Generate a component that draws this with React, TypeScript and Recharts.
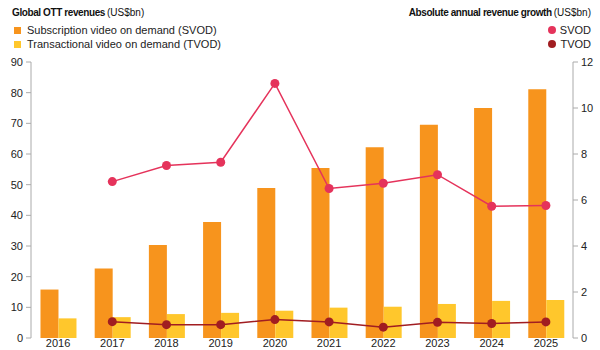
import React from 'react';
import { ComposedChart, Bar, Line, XAxis, YAxis } from 'recharts';

const years = ['2016', '2017', '2018', '2019', '2020', '2021', '2022', '2023', '2024', '2025'];
const svodRevenue = [15.8, 22.7, 30.3, 37.8, 48.9, 55.4, 62.2, 69.5, 75.0, 81.1];
const tvodRevenue = [6.4, 6.8, 7.8, 8.2, 8.9, 9.9, 10.2, 11.1, 12.1, 12.4];
const svodGrowth = [null, 6.8, 7.5, 7.64, 11.07, 6.5, 6.73, 7.1, 5.73, 5.76];
const tvodGrowth = [null, 0.71, 0.58, 0.58, 0.8, 0.7, 0.47, 0.68, 0.63, 0.7];
const leftTicks = [0, 10, 20, 30, 40, 50, 60, 70, 80, 90];
const rightTicks = [0, 2, 4, 6, 8, 10, 12];

const data = years.map((y, i) => ({
  year: y,
  svod: svodRevenue[i],
  tvod: tvodRevenue[i],
  svodG: svodGrowth[i],
  tvodG: tvodGrowth[i],
}));

const FONT = '"Liberation Sans", Arial, Helvetica, sans-serif';
const C_SVOD = '#F7941D';
const C_TVOD = '#FFC72C';
const C_SVOD_L = '#E5335B';
const C_TVOD_L = '#A11D21';

export default function App() {
  return (
    <div style={{ position: 'fixed', left: 0, top: 0, width: 600, height: 350, background: '#fff', fontFamily: FONT }}>
      <ComposedChart
        width={600}
        height={350}
        data={data}
        margin={{ top: 62, right: 0, left: 0, bottom: 0 }}
        barCategoryGap="17.5%"
        barGap={0}
      >
        <XAxis
          dataKey="year"
          axisLine={false}
          tickLine={false}
          tickSize={0}
          tickMargin={1}
          height={12}
          interval={0}
          tick={{ fontSize: 11, fill: '#222', fontFamily: FONT }}
        />
        <YAxis
          yAxisId="left"
          domain={[0, 90]}
          ticks={leftTicks}
          width={31}
          axisLine={{ stroke: '#aaa' }}
          tickLine={{ stroke: '#aaa' }}
          tickSize={5}
          tickMargin={3}
          tick={{ fontSize: 11, fill: '#222', fontFamily: FONT }}
        />
        <YAxis
          yAxisId="right"
          orientation="right"
          domain={[0, 12]}
          ticks={rightTicks}
          width={27}
          axisLine={{ stroke: '#aaa' }}
          tickLine={{ stroke: '#aaa' }}
          tickSize={5}
          tickMargin={3}
          tick={{ fontSize: 11, fill: '#222', fontFamily: FONT }}
        />
        <Bar yAxisId="left" dataKey="svod" fill={C_SVOD} isAnimationActive={false} />
        <Bar yAxisId="left" dataKey="tvod" fill={C_TVOD} isAnimationActive={false} />
        <Line
          yAxisId="right"
          dataKey="svodG"
          stroke={C_SVOD_L}
          strokeWidth={1.5}
          dot={{ r: 4.5, fill: C_SVOD_L, stroke: C_SVOD_L, strokeWidth: 0 }}
          activeDot={false}
          isAnimationActive={false}
        />
        <Line
          yAxisId="right"
          dataKey="tvodG"
          stroke={C_TVOD_L}
          strokeWidth={1.5}
          dot={{ r: 4.5, fill: C_TVOD_L, stroke: C_TVOD_L, strokeWidth: 0 }}
          activeDot={false}
          isAnimationActive={false}
        />
      </ComposedChart>

      <div style={{ position: 'absolute', left: 12, top: 7, fontSize: 10, color: '#111', whiteSpace: 'nowrap' }}>
        <b style={{ letterSpacing: -0.4 }}>Global OTT revenues</b>
        <span style={{ marginLeft: 2 }}>(US$bn)</span>
      </div>
      <div style={{ position: 'absolute', left: 14, top: 24, fontSize: 11, color: '#222', whiteSpace: 'nowrap', display: 'flex', alignItems: 'center' }}>
        <span style={{ display: 'inline-block', width: 7, height: 7, background: C_SVOD, marginRight: 6 }} />
        Subscription video on demand (SVOD)
      </div>
      <div style={{ position: 'absolute', left: 14, top: 38, fontSize: 11, color: '#222', whiteSpace: 'nowrap', display: 'flex', alignItems: 'center' }}>
        <span style={{ display: 'inline-block', width: 7, height: 7, background: C_TVOD, marginRight: 6 }} />
        Transactional video on demand (TVOD)
      </div>

      <div style={{ position: 'absolute', right: 9, top: 7, fontSize: 10, color: '#111', whiteSpace: 'nowrap' }}>
        <b style={{ letterSpacing: -0.4 }}>Absolute annual revenue growth</b>
        <span style={{ marginLeft: 2 }}>(US$bn)</span>
      </div>
      <div style={{ position: 'absolute', right: 9, top: 24, fontSize: 11, color: '#222', whiteSpace: 'nowrap', display: 'flex', alignItems: 'center' }}>
        <span style={{ display: 'inline-block', width: 8, height: 8, borderRadius: 4, background: C_SVOD_L, marginRight: 4 }} />
        SVOD
      </div>
      <div style={{ position: 'absolute', right: 9, top: 38, fontSize: 11, color: '#222', whiteSpace: 'nowrap', display: 'flex', alignItems: 'center' }}>
        <span style={{ display: 'inline-block', width: 8, height: 8, borderRadius: 4, background: C_TVOD_L, marginRight: 4 }} />
        TVOD
      </div>
    </div>
  );
}
